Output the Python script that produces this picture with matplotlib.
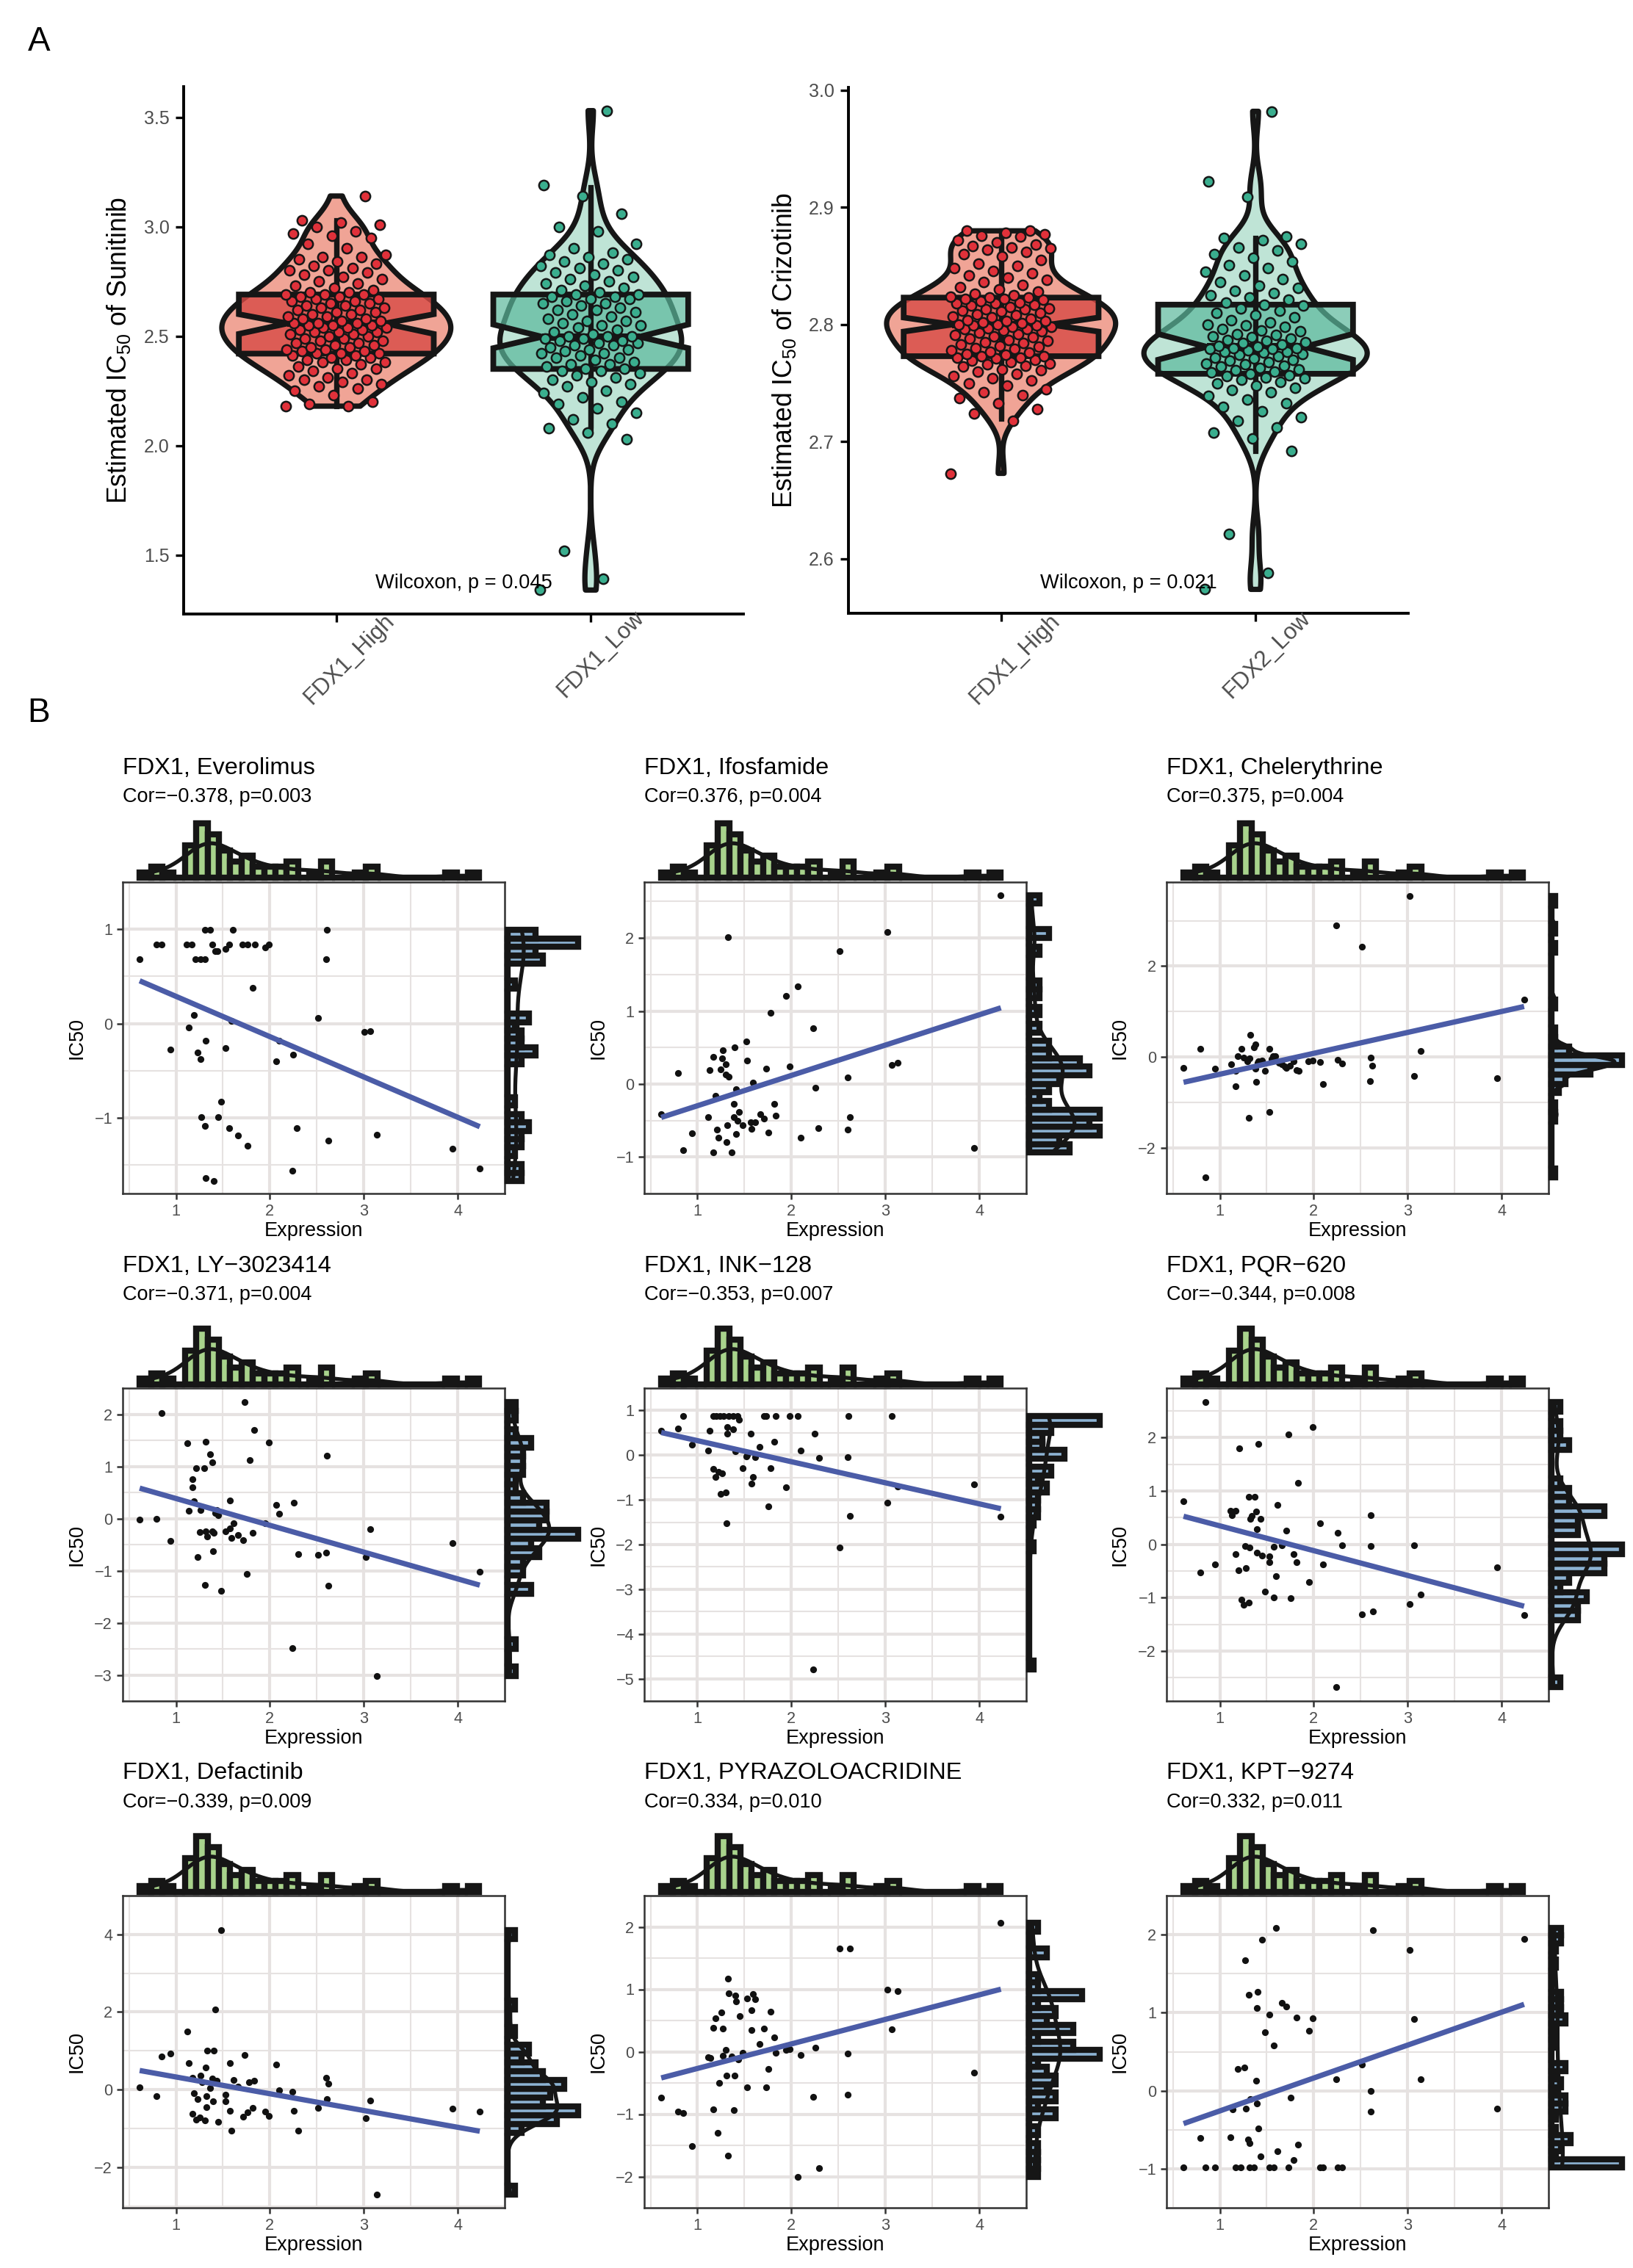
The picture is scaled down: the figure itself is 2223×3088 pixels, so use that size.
import numpy as np
import matplotlib
matplotlib.use("Agg")
import matplotlib.pyplot as plt
from matplotlib.patches import Polygon
from matplotlib.transforms import ScaledTranslation
from matplotlib.colors import to_rgba

plt.rcParams['font.family'] = ['Liberation Sans', 'DejaVu Sans']
plt.rcParams['mathtext.fontset'] = 'custom'
plt.rcParams['mathtext.rm'] = 'Liberation Sans'
plt.rcParams['mathtext.it'] = 'Liberation Sans:italic'
plt.rcParams['axes.unicode_minus'] = True

# ---------------- Panel A data ----------------
SUNITINIB_HIGH = [2.18, 2.18, 2.19, 2.20, 2.23, 2.25, 2.26, 2.27, 2.28, 2.29, 2.30, 2.30, 2.31, 2.32, 2.33,
                  2.34, 2.35, 2.35, 2.36, 2.37, 2.38, 2.38, 2.39, 2.39, 2.40, 2.40, 2.41, 2.41, 2.42, 2.42, 2.42,
                  2.43, 2.43, 2.44, 2.44, 2.45, 2.45, 2.46, 2.46, 2.47, 2.47, 2.48, 2.48, 2.49, 2.49, 2.50, 2.50,
                  2.51, 2.51, 2.52, 2.52, 2.52, 2.53, 2.53, 2.54, 2.54, 2.54, 2.55, 2.55, 2.55, 2.56, 2.56,
                  2.56, 2.57, 2.57, 2.58, 2.58, 2.59, 2.59, 2.60, 2.60, 2.61, 2.61, 2.62, 2.62, 2.63, 2.63, 2.64,
                  2.64, 2.65, 2.65, 2.66, 2.66, 2.67, 2.67, 2.68, 2.68, 2.69, 2.69, 2.69, 2.70, 2.70, 2.71,
                  2.72, 2.73, 2.74, 2.75, 2.76, 2.77, 2.78, 2.79, 2.80, 2.80, 2.81, 2.82, 2.83, 2.84, 2.85,
                  2.86, 2.86, 2.87, 2.90, 2.92, 2.95, 2.96, 2.97, 2.98, 3.00, 3.01, 3.02, 3.03, 3.14]
SUNITINIB_LOW = [1.34, 1.39, 1.52, 2.03, 2.06, 2.08, 2.10, 2.12, 2.15, 2.17, 2.19, 2.20, 2.22, 2.24, 2.25, 2.27,
                 2.28, 2.29, 2.30, 2.31, 2.32, 2.33, 2.34, 2.34, 2.35, 2.35,
                 2.36, 2.37, 2.37, 2.38, 2.39, 2.40, 2.40, 2.41, 2.42, 2.42, 2.43, 2.44, 2.44, 2.45, 2.46, 2.46,
                 2.47, 2.47, 2.48, 2.48, 2.49, 2.49, 2.50, 2.50, 2.50, 2.51,
                 2.52, 2.53, 2.54, 2.55, 2.55, 2.56, 2.57, 2.57, 2.58, 2.59, 2.60, 2.61, 2.62, 2.62, 2.63, 2.64,
                 2.65, 2.65, 2.66, 2.67, 2.67, 2.68, 2.68, 2.69, 2.69, 2.70,
                 2.71, 2.72, 2.73, 2.74, 2.75, 2.76, 2.77, 2.78, 2.79, 2.80, 2.81, 2.82, 2.83, 2.84, 2.85, 2.86,
                 2.87, 2.88, 2.90, 2.92, 2.98, 3.00, 3.06, 3.14, 3.19, 3.53]
CRIZOTINIB_HIGH = [2.673, 2.718, 2.724, 2.728, 2.733, 2.737, 2.740, 2.742, 2.745, 2.748, 2.750, 2.752, 2.754,
                   2.756, 2.758, 2.760, 2.761, 2.762, 2.764, 2.765, 2.766, 2.767, 2.768, 2.769, 2.770, 2.771,
                   2.772, 2.772, 2.773, 2.773,
                   2.774, 2.775, 2.776, 2.777, 2.778, 2.779, 2.780, 2.781, 2.782, 2.783, 2.784, 2.785, 2.786,
                   2.787, 2.788, 2.789, 2.790, 2.791, 2.792, 2.793, 2.794, 2.795, 2.796, 2.796, 2.797, 2.798,
                   2.798, 2.799, 2.799, 2.800, 2.800,
                   2.801, 2.802, 2.803, 2.803, 2.804, 2.805, 2.806, 2.807, 2.808, 2.809, 2.810, 2.811, 2.812,
                   2.813, 2.813, 2.814, 2.815, 2.816, 2.817, 2.818, 2.818, 2.819, 2.820, 2.821, 2.822, 2.822,
                   2.823, 2.823, 2.824, 2.825,
                   2.826, 2.828, 2.830, 2.832, 2.834, 2.836, 2.838, 2.840, 2.842, 2.844, 2.846, 2.848, 2.850,
                   2.852, 2.855, 2.858, 2.860, 2.862, 2.864, 2.865, 2.866, 2.867, 2.868, 2.870, 2.872, 2.875,
                   2.876, 2.877, 2.878, 2.880, 2.880]
CRIZOTINIB_LOW = [2.574, 2.588, 2.621, 2.692, 2.703, 2.708, 2.712, 2.718, 2.721, 2.726, 2.730, 2.733, 2.736,
                  2.739, 2.742, 2.744, 2.746, 2.748, 2.750, 2.751, 2.753, 2.754, 2.755, 2.756, 2.757, 2.758,
                  2.759, 2.760, 2.761, 2.762, 2.763, 2.764, 2.765, 2.766, 2.767, 2.768, 2.769, 2.770, 2.771,
                  2.772, 2.773, 2.774, 2.775, 2.776, 2.777, 2.777, 2.778, 2.779, 2.779, 2.780, 2.780, 2.781,
                  2.782, 2.783, 2.784, 2.785, 2.786, 2.787, 2.788, 2.789, 2.790, 2.791, 2.792, 2.794, 2.795,
                  2.796, 2.798, 2.799, 2.800, 2.802, 2.804, 2.806, 2.808, 2.810, 2.812, 2.814, 2.816, 2.817,
                  2.819, 2.821, 2.823, 2.825, 2.827, 2.829, 2.831, 2.833, 2.836, 2.839, 2.842, 2.845, 2.848,
                  2.851, 2.854, 2.857, 2.860, 2.863, 2.866, 2.869, 2.872, 2.874, 2.875, 2.909, 2.922, 2.982]

# box statistics: q1, median, q3, whisker low, whisker high, notch low, notch high
SUNITINIB_BOX = [(2.42, 2.558, 2.69, 2.18, 3.03, 2.51, 2.60), (2.35, 2.497, 2.69, 2.08, 3.18, 2.445, 2.553)]
CRIZOTINIB_BOX = [(2.773, 2.800, 2.823, 2.720, 2.880, 2.794, 2.806), (2.758, 2.781, 2.817, 2.692, 2.874, 2.770, 2.792)]
GROUPS_SUN = ['FDX1_High', 'FDX1_Low']
GROUPS_CRI = ['FDX1_High', 'FDX2_Low']

# ---------------- Panel B data ----------------
EXPRESSION = [0.614, 0.79, 0.846, 0.94, 1.11, 1.13, 1.165, 1.165, 1.19, 1.21, 1.22, 1.25, 1.27, 1.265, 1.30,
              1.305, 1.31, 1.32, 1.327, 1.33, 1.36, 1.386, 1.39, 1.397, 1.41, 1.41, 1.43, 1.445, 1.48, 1.52,
              1.525, 1.57, 1.575, 1.59, 1.614, 1.665, 1.71, 1.73, 1.754, 1.78, 1.82, 1.83, 1.945, 1.985, 2.066,
              2.096, 2.235, 2.254, 2.29, 2.51, 2.60, 2.62, 2.60, 3.02, 3.07, 3.13, 3.945, 4.23]

EVEROLIMUS_X = [0.614, 0.79, 0.85, 0.945, 1.11, 1.17, 1.136, 1.195, 1.21, 1.26, 1.31, 1.23, 1.26, 1.27, 1.31,
                1.36, 1.32, 1.31, 1.32, 1.39, 1.40, 1.415, 1.44, 1.45, 1.48, 1.53, 1.53, 1.57, 1.57, 1.59, 1.61,
                1.66, 1.71, 1.76, 1.84, 1.76, 1.82, 1.95, 1.99, 2.07, 2.10, 2.24, 2.25, 2.29, 2.51, 2.61, 2.60,
                2.625, 3.01, 3.07, 3.14, 3.945, 4.235]
EVEROLIMUS_Y = [0.68, 0.835, 0.835, -0.275, 0.835, 0.835, -0.04, 0.09, 0.68, 0.68, 0.68, -0.31, -0.38, -0.99,
                0.99, 0.99, -0.18, -1.085, -1.64, 0.835, -1.67, 0.77, 0.77, -0.99, -0.83, 0.79, -0.26, 0.835,
                -1.11, 0.03, 0.99, -1.19, 0.835, 0.835, 0.835, -1.30, 0.38, 0.81, 0.835, -0.40, -0.18, -1.56,
                -0.33, -1.11, 0.06, 0.99, 0.68, -1.24, -0.09, -0.08, -1.18, -1.33, -1.54]

IFOSFAMIDE_X = EXPRESSION
IFOSFAMIDE_Y = [-0.41, 0.155, -0.91, -0.67, -0.45, 0.195, -0.94, 0.374, -0.16, -0.62, -0.74, 0.20, 0.46, 0.35,
                0.27, 0.134, -0.80, -0.56, 2.01, 0.10, -0.935, -0.27, -0.45, 0.50, -0.68, -0.07, -0.50, -0.38,
                -0.56, 0.58, 0.317, -0.52, -0.61, 0.024, -0.52, -0.41, -0.475, 0.21, -0.66, 0.98, -0.27, -0.43,
                1.21, 0.236, 1.34, -0.74, 0.764, -0.05, -0.60, 1.82, 0.093, -0.455, -0.62, 2.08, 0.26, 0.29,
                -0.88, 2.59]

CHELERYTHRINE_X = [0.614, 0.795, 0.85, 0.947, 1.12, 1.17, 1.17, 1.195, 1.227, 1.255, 1.29, 1.31, 1.325, 1.32,
                   1.36, 1.38, 1.38, 1.39, 1.414, 1.45, 1.48, 1.524, 1.524, 1.566, 1.59, 1.627, 1.66, 1.71,
                   1.75, 1.786, 1.815, 1.84, 1.94, 1.99, 2.07, 2.10, 2.24, 2.257, 2.30, 2.51, 2.60, 2.608,
                   2.626, 3.02, 3.07, 3.14, 3.95, 4.24, 1.40, 1.55, 1.69]
CHELERYTHRINE_Y = [-0.24, 0.185, -2.65, -0.26, -0.157, -0.30, -0.64, 0.02, 0.185, -0.01, -0.086, -1.33, 0.485,
                   -0.03, 0.21, 0.285, -0.26, -0.55, -0.086, -0.07, -0.30, 0.185, -1.205, 0.02, 0.02, -0.12,
                   -0.157, -0.24, -0.19, -0.086, -0.285, -0.30, -0.086, -0.07, -0.107, -0.60, 2.89, -0.064,
                   -0.136, 2.42, -0.535, -0.014, -0.19, 3.54, -0.41, 0.128, -0.456, 1.27, -0.13, -0.05, -0.20]

LY3023414_X = [0.614, 0.794, 0.849, 0.945, 1.118, 1.136, 1.173, 1.173, 1.195, 1.217, 1.228, 1.257, 1.265,
               1.305, 1.316, 1.31, 1.32, 1.33, 1.364, 1.386, 1.386, 1.40, 1.397, 1.415, 1.437, 1.45, 1.48,
               1.525, 1.574, 1.577, 1.59, 1.614, 1.66, 1.713, 1.73, 1.757, 1.787, 1.82, 1.835, 1.95, 1.99,
               2.066, 2.10, 2.24, 2.257, 2.30, 2.515, 2.60, 2.61, 2.625, 3.018, 3.07, 3.14, 3.945, 4.235]
LY3023414_Y = [-0.02, -0.01, 2.02, -0.435, 1.44, 0.155, 0.75, 0.596, 0.33, 0.97, -0.745, -0.256, 0.167, 0.965,
               1.47, -1.28, -0.25, -0.35, 1.23, 1.085, -0.25, -0.27, -0.626, 0.107, 0.167, 0.066, -1.39,
               -0.238, 0.34, -0.19, -0.37, -0.083, -0.31, -0.42, 2.24, -1.06, 1.126, -0.28, 1.70, -0.09, 1.466,
               0.26, 0.09, -2.485, 0.31, -0.685, -0.70, -0.66, 1.21, -1.29, -0.745, -0.20, -3.02, -0.465, -1.02]

INK128_X = [0.614, 0.79, 0.846, 0.945, 1.114, 1.13, 1.165, 1.20, 1.24, 1.28, 1.33, 1.38, 1.43, 1.165, 1.19,
            1.22, 1.25, 1.265, 1.305, 1.31, 1.32, 1.32, 1.38, 1.40, 1.445, 1.48, 1.52, 1.53, 1.57, 1.59, 1.575,
            1.614, 1.66, 1.71, 1.735, 1.754, 1.78, 1.816, 1.83, 1.945, 1.985, 2.066, 2.096, 2.25, 2.294, 2.51,
            2.60, 2.607, 2.625, 2.235, 3.02, 3.07, 3.13, 3.945, 4.23]
INK128_Y = [0.545, 0.60, 0.873, 0.23, 0.10, 0.545, 0.873, 0.873, 0.873, 0.873, 0.873, 0.873, 0.873, -0.31,
            -0.49, -0.37, -0.86, -0.41, -0.83, -1.53, 0.63, 0.48, 0.58, 0.083, 0.79, -0.29, -0.026, 0.0, 0.48,
            -0.49, -0.64, -0.05, 0.186, 0.873, 0.873, -1.14, -0.295, 0.295, 0.873, -0.725, 0.873, 0.873, 0.096,
            0.48, -0.058, -2.06, -0.045, 0.873, -1.36, -4.79, -1.07, 0.873, -0.71, -0.65, -1.38]

PQR620_X = [0.614, 0.795, 0.85, 0.947, 1.113, 1.13, 1.17, 1.17, 1.198, 1.21, 1.227, 1.255, 1.266, 1.277, 1.31,
            1.31, 1.316, 1.326, 1.34, 1.368, 1.386, 1.397, 1.397, 1.41, 1.43, 1.45, 1.48, 1.524, 1.53, 1.574,
            1.574, 1.595, 1.613, 1.66, 1.71, 1.733, 1.758, 1.786, 1.818, 1.836, 1.953, 1.99, 2.07, 2.10, 2.257,
            2.30, 2.24, 2.51, 2.605, 2.605, 2.63, 3.02, 3.07, 3.14, 3.95, 4.24]
PQR620_Y = [0.81, -0.53, 2.66, -0.375, 0.63, 0.545, 0.63, -0.19, -0.48, 1.80, -1.04, -1.14, -0.03, -0.45, 0.895,
            -1.09, -0.06, 0.47, 0.53, 0.895, 0.62, 0.28, -0.15, 1.88, 0.47, -0.21, -0.88, -0.22, -0.33, -1.00,
            -0.04, -0.60, 0.74, -0.02, 0.25, 2.06, -1.016, -0.19, -0.34, 1.15, -0.71, 2.196, 0.39, -0.38, 0.22,
            -0.02, -2.67, -1.31, 0.55, -0.03, -1.26, -1.125, -0.024, -0.94, -0.435, -1.325]

DEFACTINIB_X = [0.614, 0.794, 0.85, 0.945, 1.12, 1.136, 1.173, 1.173, 1.19, 1.213, 1.228, 1.257, 1.265, 1.28,
                1.31, 1.316, 1.327, 1.327, 1.335, 1.364, 1.386, 1.397, 1.404, 1.415, 1.437, 1.448, 1.48, 1.525,
                1.53, 1.574, 1.574, 1.59, 1.614, 1.66, 1.713, 1.73, 1.76, 1.78, 1.834, 1.82, 1.95, 1.99, 2.066,
                2.10, 2.24, 2.257, 2.30, 2.515, 2.60, 2.625, 2.61, 3.018, 3.07, 3.14, 3.945, 4.235]
DEFACTINIB_Y = [0.063, -0.16, 0.857, 0.93, 1.50, 0.69, 0.31, -0.62, -0.087, -0.78, -0.246, -0.72, 0.365, 0.19,
                -0.80, 0.57, -0.444, -0.167, 1.0, 0.048, 0.286, -0.31, 1.01, 2.07, 0.23, -0.84, 4.11, -0.127,
                -0.30, 0.68, -0.54, -1.06, 0.254, 0.08, -0.70, 0.89, -0.587, 0.19, 0.23, -0.48, -0.57, -0.68,
                0.643, -0.016, -0.048, -0.548, -1.055, -0.476, 0.31, 0.15, -0.246, -0.746, -0.278, -2.706, -0.50,
                -0.563]

PYRAZOLOACRIDINE_X = [0.614, 0.79, 0.846, 0.945, 1.114, 1.136, 1.17, 1.17, 1.19, 1.213, 1.228, 1.257, 1.268,
                      1.268, 1.30, 1.31, 1.324, 1.327, 1.33, 1.36, 1.386, 1.393, 1.404, 1.41, 1.434, 1.45, 1.48,
                      1.526, 1.526, 1.573, 1.573, 1.59, 1.614, 1.66, 1.71, 1.73, 1.754, 1.78, 1.816, 1.83, 1.945,
                      1.985, 2.066, 2.096, 2.235, 2.254, 2.294, 2.51, 2.625, 2.60, 2.60, 3.02, 3.07, 3.13, 3.945,
                      4.23]
PYRAZOLOACRIDINE_Y = [-0.735, -0.954, -0.987, -1.51, -0.09, -0.104, 0.384, -0.92, 0.54, -1.30, -0.498, 0.626,
                      0.375, -0.066, 0.028, -0.384, 1.17, -1.67, 0.93, -0.08, -0.93, -0.384, 0.897, 0.81, -0.123,
                      0.565, -0.02, 0.85, -0.565, 0.67, 0.346, 0.92, 0.84, 0.123, 0.375, -0.565, -0.28, 0.64,
                      0.233, -0.02, 0.028, 0.038, -2.01, -0.052, -0.72, 0.062, -1.86, 1.65, 1.65, -0.033, -0.69,
                      0.995, 0.356, 0.97, -0.33, 2.06]

KPT9274_X = [0.614, 0.795, 0.85, 0.947, 1.117, 1.135, 1.166, 1.19, 1.22, 1.262, 1.27, 1.276, 1.30, 1.31, 1.315,
             1.315, 1.326, 1.36, 1.386, 1.393, 1.397, 1.404, 1.41, 1.43, 1.45, 1.48, 1.524, 1.524, 1.574, 1.574,
             1.595, 1.613, 1.66, 1.71, 1.733, 1.758, 1.786, 1.818, 1.836, 1.953, 1.99, 2.07, 2.10, 2.24, 2.257,
             2.30, 2.51, 2.605, 2.608, 2.63, 3.02, 3.07, 3.14, 3.95, 4.24]
KPT9274_Y = [-0.98, -0.61, -0.98, -0.98, -0.60, -0.24, -0.98, 0.275, -0.98, 0.30, 1.67, -0.225, -0.625, 1.23,
             -0.67, -0.98, -0.107, -0.98, 0.132, -0.16, 1.057, 1.27, -0.48, -0.84, 1.94, 0.75, 0.98, -0.98,
             -0.98, 0.58, 2.09, -0.775, 1.13, 1.075, -0.98, -0.09, -0.886, 0.94, -0.686, 0.77, 0.93, -0.98,
             -0.98, 0.15, -0.98, -0.98, 0.34, 0.0, -0.27, 2.057, 1.807, 0.92, 0.143, -0.232, 1.946]

DRUGS = ['Everolimus', 'Ifosfamide', 'Chelerythrine', 'LY\u22123023414', 'INK\u2212128', 'PQR\u2212620',
         'Defactinib', 'PYRAZOLOACRIDINE', 'KPT\u22129274']
COR = [-0.378, 0.376, 0.375, -0.371, -0.353, -0.344, -0.339, 0.334, 0.332]
PVAL = ['0.003', '0.004', '0.004', '0.004', '0.007', '0.008', '0.009', '0.010', '0.011']
PANEL_X = [EVEROLIMUS_X, IFOSFAMIDE_X, CHELERYTHRINE_X, LY3023414_X, INK128_X, PQR620_X, DEFACTINIB_X,
           PYRAZOLOACRIDINE_X, KPT9274_X]
PANEL_Y = [EVEROLIMUS_Y, IFOSFAMIDE_Y, CHELERYTHRINE_Y, LY3023414_Y, INK128_Y, PQR620_Y, DEFACTINIB_Y,
           PYRAZOLOACRIDINE_Y, KPT9274_Y]
Y_TICKS = [[-1, 0, 1], [-1, 0, 1, 2], [-2, 0, 2], [-3, -2, -1, 0, 1, 2], [-5, -4, -3, -2, -1, 0, 1],
           [-2, -1, 0, 1, 2], [-2, 0, 2, 4], [-2, -1, 0, 1, 2], [-1, 0, 1, 2]]
X_TICKS = [1, 2, 3, 4]

# ---------------- style ----------------
EDGE = '#161616'
GRID = '#E6E2E1'
GREEN = '#A8D38C'
BLUE = '#8DB3D3'
LINE = '#4B5CA7'
TICKC = '#4D4D4D'

W, H, DPI = 2223, 3088, 200
fig = plt.figure(figsize=(W / DPI, H / DPI), dpi=DPI)


def add_ax(l, t, r, b):
    return fig.add_axes([l / W, 1 - b / H, (r - l) / W, (b - t) / H])


def ftext(x, y, s, **kw):
    return fig.text(x / W, 1 - y / H, s, **kw)


def nrd0(x):
    x = np.asarray(x, float)
    sd = np.std(x, ddof=1)
    q75, q25 = np.percentile(x, [75, 25])
    lo = min(sd, (q75 - q25) / 1.34) if q75 > q25 else sd
    return 0.9 * lo * len(x) ** -0.2


def kde(x, grid, bw):
    x = np.asarray(x, float)
    z = (grid[:, None] - x[None, :]) / bw
    return np.exp(-0.5 * z ** 2).sum(1) / (len(x) * bw * np.sqrt(2 * np.pi))


# ---------------- Panel A ----------------
def violin_panel(l, t, r, b, groups, box, names, drug, ylab_x, xoffs):
    ax = add_ax(l, t, r, b)
    allv = np.concatenate([np.asarray(g) for g in groups])
    lo, hi = allv.min(), allv.max()
    d = hi - lo
    ax.set_ylim(lo - 0.05 * d, hi + 0.05 * d)
    ax.set_xlim(0.4, 2.6)
    vfill = ['#F0A496', '#BFE4D6']
    bfill = [to_rgba('#D84A45', 0.8), to_rgba('#5BB89C', 0.7)]
    pcol = ['#E0313A', '#3AAE8E']
    dens = []
    for g in groups:
        g = np.asarray(g, float)
        grid = np.linspace(g.min(), g.max(), 512)
        dens.append((grid, kde(g, grid, nrd0(g))))
    scale = 0.45 / max(dd.max() for _, dd in dens)
    for i, g in enumerate(groups):
        pos = i + 1
        grid, dd = dens[i]
        w = dd * scale
        xs = np.concatenate([pos - w, (pos + w)[::-1]])
        ys = np.concatenate([grid, grid[::-1]])
        ax.add_patch(Polygon(np.column_stack([xs, ys]), closed=True, fc=vfill[i], ec=EDGE, lw=2.6,
                             joinstyle='round', zorder=1))
        q1, med, q3, wlo, whi, clo, chi = box[i]
        st = dict(med=med, q1=q1, q3=q3, whislo=wlo, whishi=whi, cilo=clo, cihi=chi, fliers=[])
        ax.bxp([st], positions=[pos], widths=0.766, shownotches=True, showcaps=False, showfliers=False,
               patch_artist=True, manage_ticks=False, zorder=2,
               boxprops=dict(facecolor=bfill[i], edgecolor=EDGE, linewidth=2.8, joinstyle='miter'),
               whiskerprops=dict(color=EDGE, linewidth=2.6),
               medianprops=dict(color=EDGE, linewidth=3.6, solid_capstyle='butt'))
        ax.vlines(pos, wlo, whi, colors=EDGE, lw=2.6, zorder=2.5)
        gv = np.asarray(g, float)
        jit = ((np.arange(len(gv)) * 0.6180339887) % 1.0 - 0.5) * 0.4
        ax.scatter(pos + jit, gv, s=23, c=pcol[i], edgecolors=EDGE, linewidths=0.9, zorder=3)
    for s in ['top', 'right']:
        ax.spines[s].set_visible(False)
    for s in ['left', 'bottom']:
        ax.spines[s].set_linewidth(1.4)
        ax.spines[s].set_color('black')
    ax.tick_params(axis='both', length=4, width=1.2, color='black')
    ax.tick_params(axis='y', labelsize=9, labelcolor=TICKC, pad=3)
    ax.set_xticks([1, 2])
    ax.set_xticklabels(['', ''])
    for i, nm in enumerate(names):
        tr = ax.get_xaxis_transform() + ScaledTranslation(xoffs[i][0] / DPI, -xoffs[i][1] / DPI,
                                                          fig.dpi_scale_trans)
        ax.text(i + 1, 0, nm, transform=tr, rotation=45, ha='center', va='center', fontsize=11.2, color=TICKC)
    ax.yaxis.set_major_formatter(matplotlib.ticker.FormatStrFormatter('%.1f'))
    ftext(ylab_x, (t + b) / 2, 'Estimated IC$_{50}$ of ' + drug, rotation=90, ha='center', va='center',
          fontsize=12.8)
    return ax


ax1 = violin_panel(250, 118, 1012, 836, [SUNITINIB_HIGH, SUNITINIB_LOW], SUNITINIB_BOX, GROUPS_SUN,
                   'Sunitinib', 162, [(18, 62), (14, 55)])
ax1.set_yticks([1.5, 2.0, 2.5, 3.0, 3.5])
ax1.text(1.5, 1.37, 'Wilcoxon, p = 0.045', ha='center', va='center', fontsize=9.8, zorder=5)
ax2 = violin_panel(1155, 119, 1917, 835, [CRIZOTINIB_HIGH, CRIZOTINIB_LOW], CRIZOTINIB_BOX, GROUPS_CRI,
                   'Crizotinib', 1067, [(19, 63), (16, 57)])
ax2.set_yticks([2.6, 2.7, 2.8, 2.9, 3.0])
ax2.text(1.5, 2.579, 'Wilcoxon, p = 0.021', ha='center', va='center', fontsize=9.8, zorder=5)

ftext(53, 57, 'A', ha='center', va='center', fontsize=16.5)
ftext(53, 971, 'B', ha='center', va='center', fontsize=16.5)

# ---------------- Panel B ----------------
COL_L = [167, 877, 1588]
PW = 520
ROW_T = [1201, 1890, 2581]
ROW_B = [1625, 2316, 3006]
TOP_T = [1121, 1809, 2500]
TOP_B = [1195, 1885, 2576]
TITLE_Y = [1054, 1732, 2422]
SUB_Y = [1092, 1770, 2461]
HIST_LW = 3.0
KDE_LW = 1.9


def fmt_tick(v):
    s = '%g' % v
    return s.replace('-', '\u2212')


def scatter_panel(k):
    row, col = divmod(k, 3)
    l = COL_L[col]
    r = l + PW
    t, b = ROW_T[row], ROW_B[row]
    xs = np.asarray(PANEL_X[k], float)
    ys = np.asarray(PANEL_Y[k], float)
    ax = add_ax(l, t, r, b)
    dx = xs.max() - xs.min()
    dy = ys.max() - ys.min()
    ax.set_xlim(xs.min() - 0.05 * dx, xs.max() + 0.05 * dx)
    ax.set_ylim(ys.min() - 0.05 * dy, ys.max() + 0.05 * dy)
    yt = Y_TICKS[k]
    step = yt[1] - yt[0]
    ax.set_xticks(X_TICKS)
    ax.set_xticks([0.5, 1.5, 2.5, 3.5, 4.5], minor=True)
    ax.set_yticks(yt)
    ax.set_yticks([yt[0] - step / 2] + [v + step / 2 for v in yt], minor=True)
    ax.set_xticklabels([fmt_tick(v) for v in X_TICKS])
    ax.set_yticklabels([fmt_tick(v) for v in yt])
    ax.grid(which='major', color=GRID, lw=1.5)
    ax.grid(which='minor', color=GRID, lw=0.75)
    ax.set_axisbelow(True)
    ax.tick_params(which='minor', length=0)
    ax.tick_params(which='major', length=3, width=0.9, color='#333333', labelsize=7.8, labelcolor=TICKC, pad=2)
    for s in ax.spines.values():
        s.set_color('#333333')
        s.set_linewidth(0.9)
    ax.scatter(xs, ys, s=11, c='#111111', linewidths=0, zorder=3)
    slope, icpt = np.polyfit(xs, ys, 1)
    xx = np.array([xs.min(), xs.max()])
    ax.plot(xx, slope * xx + icpt, color=LINE, lw=2.6, solid_capstyle='butt', zorder=4)

    # top marginal (expression)
    ex = np.asarray(EXPRESSION, float)
    axt = add_ax(l, TOP_T[row], r, TOP_B[row])
    axt.set_xlim(ax.get_xlim())
    cnt, edges = np.histogram(ex, bins=30)
    dens = cnt / (len(ex) * np.diff(edges))
    axt.bar(edges[:-1], dens, width=np.diff(edges), align='edge', color=GREEN, edgecolor=EDGE,
            linewidth=HIST_LW, clip_on=False)
    g = np.linspace(ex.min(), ex.max(), 300)
    kd = kde(ex, g, nrd0(ex))
    axt.plot(g, kd, color=EDGE, lw=KDE_LW, clip_on=False)
    axt.set_ylim(0, max(dens.max(), kd.max()))
    axt.axis('off')

    # right marginal (IC50)
    axr = add_ax(r + 4, t, r + 100, b)
    axr.set_ylim(ax.get_ylim())
    cnt, edges = np.histogram(ys, bins=30)
    dens = cnt / (len(ys) * np.diff(edges))
    axr.barh(edges[:-1], dens, height=np.diff(edges), align='edge', color=BLUE, edgecolor=EDGE,
             linewidth=HIST_LW, clip_on=False)
    g = np.linspace(ys.min(), ys.max(), 300)
    kd = kde(ys, g, nrd0(ys))
    axr.plot(kd, g, color=EDGE, lw=KDE_LW, clip_on=False)
    axr.set_xlim(0, max(dens.max(), kd.max()))
    axr.axis('off')

    ftext(l, TITLE_Y[row], 'FDX1, ' + DRUGS[k], ha='left', va='baseline', fontsize=11.7)
    c = COR[k]
    cs = ('%.3f' % c).replace('-', '\u2212')
    ftext(l, SUB_Y[row], 'Cor=%s, p=%s' % (cs, PVAL[k]), ha='left', va='baseline', fontsize=9.76)
    ftext(l - 63, (t + b) / 2, 'IC50', rotation=90, ha='center', va='center', fontsize=9.76)
    ftext((l + r) / 2, b + 51, 'Expression', ha='center', va='center', fontsize=9.76)


for k in range(9):
    scatter_panel(k)

fig.savefig('out.png', dpi=DPI, facecolor='white')
